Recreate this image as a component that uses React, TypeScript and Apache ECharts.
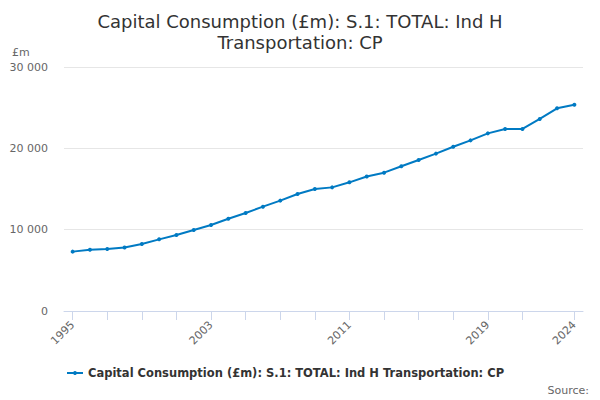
import React, { useEffect, useRef } from "react";
import * as echarts from "echarts";

const years = [1995,1996,1997,1998,1999,2000,2001,2002,2003,2004,2005,2006,2007,2008,2009,2010,2011,2012,2013,2014,2015,2016,2017,2018,2019,2020,2021,2022,2023,2024];
const values = [7300,7540,7630,7820,8240,8810,9350,9960,10580,11350,12050,12830,13570,14390,15000,15200,15820,16540,17010,17790,18570,19350,20200,20980,21840,22380,22380,23610,24920,25370];
const xTickValues = [1995,1997,1999,2001,2003,2005,2007,2009,2011,2013,2015,2017,2019,2021,2024];
const xLabelValues = [1995,2003,2011,2019,2024];
const seriesName = "Capital Consumption (£m): S.1: TOTAL: Ind H Transportation: CP";
const titleText = "Capital Consumption (£m): S.1: TOTAL: Ind H\nTransportation: CP";

const FONT = "DejaVu Sans";

function fmt(v: number): string {
  return String(Math.round(v)).replace(/\B(?=(\d{3})+(?!\d))/g, " ");
}

export default function App() {
  const ref = useRef<HTMLDivElement>(null);
  useEffect(() => {
    if (!ref.current) return;
    const chart = echarts.init(ref.current, null, { renderer: "svg" });
    chart.setOption({
      animation: false,
      backgroundColor: "#ffffff",
      title: {
        text: titleText,
        left: "center",
        top: 6,
        textStyle: { fontFamily: FONT, fontSize: 18, fontWeight: "normal", color: "#333333", lineHeight: 21 },
      },
      grid: { left: 64, right: 17, top: 67, bottom: 89, containLabel: false },
      legend: {
        left: 61,
        top: 362,
        itemWidth: 16,
        itemHeight: 5,
        itemGap: 10,
        textStyle: { fontFamily: FONT, fontSize: 11.5, fontWeight: "bold", color: "#333333" },
        data: [seriesName],
      },
      graphic: [
        { type: "text", left: 12, top: 47, style: { text: "£m", fontFamily: FONT, fontSize: 11, fill: "#666666" } },
        { type: "text", right: 11, top: 385, style: { text: "Source:", fontFamily: FONT, fontSize: 11, fill: "#666666" } },
      ],
      xAxis: {
        type: "value",
        min: 1994.5,
        max: 2024.5,
        splitLine: { show: false },
        axisLine: { show: true, lineStyle: { color: "#ccd6eb", width: 1 } },
        axisTick: { show: true, length: 9, lineStyle: { color: "#ccd6eb" }, customValues: xTickValues },
        axisLabel: {
          customValues: xLabelValues,
          rotate: 45,
          fontFamily: FONT,
          fontSize: 11,
          color: "#666666",
          margin: 12,
          formatter: (v: number) => String(v),
        },
      },
      yAxis: {
        type: "value",
        min: 0,
        max: 30000,
        interval: 10000,
        axisLine: { show: false },
        axisTick: { show: false },
        splitLine: { lineStyle: { color: "#e6e6e6", width: 1 } },
        axisLabel: { fontFamily: FONT, fontSize: 11, color: "#666666", margin: 16, formatter: (v: number) => fmt(v) },
      },
      series: [
        {
          name: seriesName,
          type: "line",
          data: years.map((y, i) => [y, values[i]]),
          symbol: "circle",
          symbolSize: 4,
          lineStyle: { width: 2, color: "#007ac3" },
          itemStyle: { color: "#007ac3" },
        },
      ],
    });
    return () => chart.dispose();
  }, []);
  return <div ref={ref} style={{ position: "fixed", left: 0, top: 0, width: 600, height: 400 }} />;
}
